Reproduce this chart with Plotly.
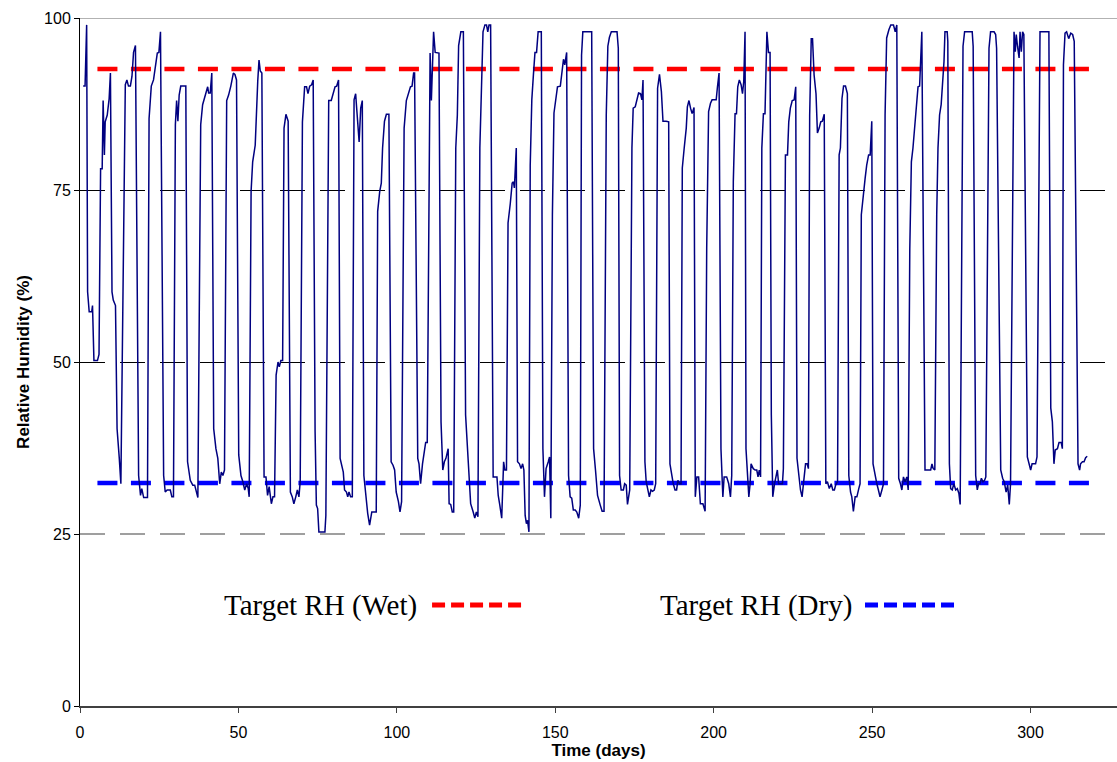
import plotly.graph_objects as go

# Measured relative humidity in the chamber (day, %RH)
days = [
    1.0, 1.6, 2.1, 2.4, 2.9, 3.7, 3.95, 4.4, 5.5, 6.0, 6.5, 7.0, 7.3, 7.7, 7.95, 8.6, 9.2, 9.6,
    10.1, 10.5, 11.2, 11.7, 12.4, 12.9,
    14.3, 14.8, 15.3, 15.9, 16.4, 16.9, 17.5,
    18.5, 19.1, 19.5, 20.1, 20.6, 21.3,
    21.8, 22.5, 23.2, 23.9, 24.4, 24.9, 25.4,
    26.4, 26.9, 27.5, 28.5, 29.0, 29.5,
    30.1, 30.5, 30.9, 31.3, 31.8, 33.4,
    33.95, 34.8, 35.6, 36.2, 37.2,
    38.1, 38.7, 39.5, 40.3, 40.6, 41.1, 41.6,
    42.2, 42.9, 43.5, 44.1, 44.6, 45.1, 45.6,
    46.3, 46.9, 47.6, 48.4, 48.9, 49.4,
    50.1, 50.8, 51.4, 52.0, 52.6, 53.1, 53.4,
    54.0, 54.5, 55.3, 56.1, 56.5, 56.9, 57.4,
    58.1, 58.7, 59.2, 59.7, 60.4, 60.9, 61.4,
    61.9, 62.5, 62.9, 63.4, 63.95, 64.4, 65.0, 65.7,
    66.4, 67.0, 67.5, 68.1, 68.6, 69.1, 69.5,
    70.2, 70.9, 71.5, 71.95, 72.5, 73.1, 73.6,
    74.2, 74.6, 75.0, 75.4, 77.3, 77.6,
    78.2, 78.5, 79.3, 79.9, 80.5, 81.0, 81.6,
    82.1, 82.6, 83.1, 83.5, 84.1, 84.5, 84.9, 85.4, 85.95,
    86.5, 87.0, 87.4, 88.1, 88.6, 89.1,
    89.6, 90.2, 90.8, 91.4, 92.1, 93.5,
    93.95, 94.6, 95.1, 95.5, 96.1, 96.7, 97.5,
    98.2, 98.8, 99.3, 99.8, 100.5, 101.0, 101.5,
    102.3, 103.0, 103.6, 104.3, 104.8, 105.3, 105.6,
    106.6, 107.0, 107.5, 108.1, 108.7, 109.1, 109.6,
    110.5, 110.9, 111.6, 112.1, 112.8, 113.3,
    113.95, 114.5, 115.0, 115.5, 116.2, 116.5, 117.0, 117.5, 117.95,
    118.6, 119.1, 119.5, 120.2, 121.0,
    121.7, 122.6, 123.3, 124.1, 124.6, 125.1, 125.6,
    126.2, 126.8, 127.2, 127.8, 128.3, 128.7, 129.1, 129.6,
    130.4, 131.6, 132.0, 132.5, 133.1, 133.7, 134.1, 134.6,
    135.1, 135.8, 136.4, 136.8, 137.1, 137.7,
    138.1, 138.7, 139.2, 139.7, 140.1, 140.5, 140.9, 141.25, 141.7,
    142.1, 142.6, 143.1, 143.6, 144.1, 144.6, 145.6,
    146.1, 146.6, 147.1, 147.8, 148.2, 148.6,
    149.1, 149.6, 150.1, 150.7, 151.6, 152.2, 152.6, 153.0, 153.6,
    154.2, 154.7, 155.2, 155.7, 156.3, 156.8, 157.4, 157.9,
    158.3, 158.7, 161.5,
    162.1, 162.7, 163.35, 164.2, 164.8, 165.4,
    166.1, 166.6, 167.1, 167.7, 169.5, 169.9,
    170.3, 170.8, 171.5, 171.9, 172.4, 172.8, 173.5,
    174.2, 174.6, 175.25, 175.7, 176.3, 176.9, 177.35, 177.7,
    178.3, 178.7, 179.25, 179.7, 180.2, 180.7, 181.25, 181.7,
    182.3, 182.9, 183.5, 184.0, 185.0, 185.8,
    186.2, 186.7, 187.25, 187.8, 188.3, 188.7, 189.25, 189.7,
    190.1, 190.7, 191.35, 191.7, 192.2, 192.7, 193.2, 193.8,
    194.2, 194.7, 195.25, 195.8, 196.6, 197.3,
    197.8, 198.4, 199.0, 199.5, 200.8, 201.2, 201.7,
    202.3, 202.9, 203.3, 204.1, 204.75, 205.3, 205.7,
    206.2, 206.75, 207.2, 207.6, 208.1, 208.65, 209.1, 209.5, 209.9,
    210.2, 210.65, 211.1, 211.5, 211.8, 212.5, 213.1, 213.6, 214.0, 214.4, 214.8,
    215.2, 215.7, 216.2, 216.8, 217.3, 217.8,
    218.2, 218.65, 219.2, 219.7, 220.1, 220.5, 221.7, 222.0,
    222.65, 223.3, 223.7, 224.2, 224.8, 225.4, 225.9,
    226.3, 226.9, 227.4, 227.9, 228.5, 229.0, 229.5, 229.9,
    230.3, 230.8, 231.2, 231.7, 232.3, 232.75, 233.3, 233.8, 234.3, 234.9,
    235.4, 235.9, 236.5, 237.1, 237.6, 238.1, 238.5, 239.1,
    239.6, 240.0, 240.5, 241.0, 241.6, 242.2,
    242.65, 243.2, 243.6, 244.1, 244.65, 245.2, 245.8, 246.2,
    246.6, 247.3, 247.8, 248.3, 248.9, 249.4, 249.9,
    250.3, 250.9, 251.5, 252.0, 252.5, 253.1, 253.6,
    254.1, 254.6, 255.3, 255.9, 256.75, 257.3, 257.8,
    258.4, 258.95, 259.4, 259.9, 260.4, 260.96, 261.4,
    261.9, 262.4, 262.9, 263.4, 263.9, 264.5, 265.0, 265.3, 265.7,
    266.7, 268.5, 268.9, 269.3, 269.8,
    270.4, 270.8, 271.3, 271.8, 272.4, 272.7, 273.0, 273.7, 273.9,
    274.4, 274.8, 275.3, 275.8, 276.4, 276.9, 277.4, 277.8,
    278.7, 279.2, 281.6, 281.9,
    282.7, 283.2, 283.6, 284.05, 284.5, 285.0, 285.5, 285.9,
    286.9, 287.4, 288.5, 289.0, 289.3,
    290.6, 291.2, 291.7, 292.3, 292.8, 293.3, 293.7,
    294.8, 295.2, 295.5, 295.9, 296.4, 296.7, 297.1, 297.5, 297.9,
    299.0, 299.5, 300.05, 300.5, 301.6, 302.05,
    303.0, 305.8,
    306.4, 306.9, 307.4, 307.8, 308.5, 309.0, 309.7, 310.05,
    310.4, 310.9, 311.4, 312.05, 312.7, 313.3, 313.8,
    315.0, 315.5, 315.8, 316.4, 316.9, 317.4, 317.9,
]

rh = [
    90.1, 90.1, 99.0, 60.2, 57.3, 57.3, 58.2, 50.2, 50.2, 51.1, 78.1, 78.1, 88.0, 80.1, 84.9, 85.9, 88.3, 92.0,
    60.2, 59.0, 58.2, 40.3, 36.0, 32.3,
    90.3, 91.0, 90.1, 90.1, 91.5, 95.0, 96.0,
    33.5, 30.6, 31.6, 30.3, 30.3, 30.3,
    85.4, 90.1, 91.0, 93.7, 94.9, 95.0, 98.0,
    33.5, 31.1, 31.4, 31.4, 30.4, 30.4,
    84.5, 88.0, 85.0, 88.8, 90.1, 90.1,
    35.5, 32.8, 32.1, 32.1, 30.3,
    84.5, 87.4, 88.8, 90.0, 89.1, 89.1, 92.0,
    40.3, 37.4, 36.0, 32.3, 34.0, 33.5, 34.3,
    88.0, 88.8, 90.1, 92.0, 91.8, 91.0,
    36.5, 33.5, 32.6, 31.4, 32.3, 31.6, 30.4,
    74.8, 79.1, 81.5, 90.8, 93.9, 92.3, 92.0,
    33.3, 33.3, 30.6, 31.9, 29.4, 30.4, 30.4,
    48.1, 50.0, 49.3, 50.2, 50.2, 84.0, 86.0, 85.0,
    31.1, 30.4, 29.4, 30.4, 31.4, 30.4, 32.6,
    84.9, 90.0, 90.0, 89.0, 90.1, 90.3, 91.0,
    39.9, 29.2, 28.7, 25.3, 25.3, 27.7,
    79.1, 88.0, 88.0, 89.0, 90.0, 90.1, 91.0,
    36.0, 35.0, 34.0, 31.4, 31.1, 30.4, 31.1, 30.4, 30.4,
    88.1, 89.0, 86.4, 82.0, 86.9, 88.0,
    33.5, 30.2, 28.0, 26.3, 28.2, 28.2,
    71.9, 74.8, 76.0, 81.1, 85.0, 86.0, 86.0,
    35.5, 35.0, 34.3, 31.1, 29.7, 28.2, 29.7,
    84.0, 88.0, 89.0, 90.0, 90.1, 92.0, 92.0,
    36.0, 35.2, 32.3, 35.2, 37.4, 38.3, 38.3,
    94.9, 88.0, 98.0, 95.0, 95.0, 94.9,
    41.3, 34.3, 35.5, 36.0, 37.4, 29.4, 29.3, 28.2, 28.2,
    81.1, 85.9, 96.0, 98.0, 98.0,
    42.3, 35.5, 29.4, 28.2, 27.3, 28.2, 27.5,
    81.1, 93.2, 98.0, 99.0, 99.0, 98.0, 99.0, 99.0,
    33.3, 33.3, 30.6, 29.2, 27.3, 35.5, 34.3, 34.3,
    70.2, 73.0, 76.0, 76.2, 75.3, 81.1,
    35.5, 35.2, 34.5, 35.2, 34.3, 27.7, 26.5, 27.0, 25.3,
    78.6, 88.1, 91.7, 95.0, 95.0, 98.0, 98.0,
    37.4, 30.4, 34.5, 35.5, 36.2, 27.3,
    71.4, 86.2, 88.1, 90.0, 90.1, 92.0, 94.0, 93.2, 95.0,
    33.5, 30.4, 30.2, 28.5, 28.5, 28.2, 27.3, 29.2,
    94.6, 98.0, 98.0,
    37.4, 34.3, 30.6, 29.2, 28.3, 28.3,
    85.9, 95.9, 97.2, 98.0, 98.0, 95.6,
    33.5, 31.4, 31.4, 32.3, 32.1, 29.3, 31.4,
    81.1, 86.9, 87.1, 88.1, 89.1, 89.0, 88.1, 91.0,
    35.5, 32.6, 31.6, 30.4, 31.4, 31.2, 31.4, 32.3,
    89.8, 91.8, 89.3, 85.0, 85.0, 84.9,
    35.2, 33.8, 32.3, 31.4, 31.4, 32.8, 32.3, 32.3,
    78.2, 81.1, 84.0, 87.1, 88.0, 86.9, 86.1, 87.0,
    30.4, 33.3, 33.3, 29.4, 29.4, 28.3,
    66.5, 86.4, 87.6, 88.1, 88.1, 90.0, 92.0,
    37.4, 30.4, 33.3, 33.3, 32.3, 30.4, 33.5,
    76.2, 86.1, 86.1, 90.0, 91.0, 90.3, 89.0, 90.8, 98.0,
    37.4, 33.5, 30.4, 32.3, 35.2, 34.5, 34.3, 34.3, 33.3, 34.3, 33.3,
    81.1, 86.1, 86.1, 98.0, 95.0, 95.0,
    42.3, 30.4, 32.3, 33.3, 34.3, 32.3, 32.3, 34.5,
    80.1, 80.1, 84.9, 86.9, 88.0, 88.1, 90.0,
    36.0, 33.3, 31.4, 30.4, 33.3, 35.2, 35.2, 34.5,
    85.9, 97.0, 97.0, 91.7, 89.0, 83.3, 84.0, 84.9, 85.0, 86.0,
    32.3, 32.6, 31.6, 32.3, 31.4, 31.4, 32.1, 32.6,
    80.1, 81.1, 88.3, 90.1, 90.1, 89.0,
    33.5, 31.1, 30.4, 28.3, 30.4, 30.4, 31.6, 32.3,
    71.4, 75.0, 76.7, 78.6, 80.1, 80.1, 85.0,
    35.2, 33.5, 32.3, 31.4, 30.4, 31.4, 32.3,
    85.9, 97.1, 98.3, 99.0, 99.0, 98.0, 99.0,
    33.1, 32.3, 31.4, 33.3, 32.6, 33.3, 31.4,
    66.5, 79.1, 81.1, 84.0, 85.9, 90.0, 90.1, 94.6, 98.0,
    34.3, 34.3, 35.2, 34.5, 34.3,
    71.4, 81.1, 85.9, 87.4, 90.8, 93.7, 98.0, 98.0, 96.6,
    35.2, 31.6, 31.4, 32.3, 31.4, 31.6, 30.9, 29.3,
    95.9, 98.0, 98.0, 95.9,
    33.5, 31.4, 32.3, 32.3, 33.1, 32.6, 32.8, 33.3,
    95.6, 98.0, 98.0, 97.6, 95.6,
    34.3, 33.1, 32.6, 31.1, 32.1, 29.3, 32.3,
    98.0, 95.1, 97.6, 95.9, 94.2, 98.0, 95.1, 98.0, 97.6,
    36.2, 35.2, 34.3, 35.2, 35.2, 36.2,
    98.0, 98.0,
    43.3, 41.3, 35.2, 37.2, 37.4, 38.3, 38.3, 37.4,
    93.2, 97.8, 98.0, 97.0, 97.8, 97.6, 96.6,
    35.2, 34.3, 35.2, 35.5, 35.5, 36.1, 36.3,
]

# Target set points and the span over which they apply
target_wet = 92.6
target_dry = 32.4
wet_span = [5.5, 319.5]
dry_span = [5.5, 322.0]

x_ticks = [0, 50, 100, 150, 200, 250, 300]
y_ticks = [0, 25, 50, 75, 100]
dashed_levels = [50, 75]
lower_level = 25

SANS = "Arial, 'Liberation Sans', sans-serif"
SERIF = "'Times New Roman', 'Liberation Serif', serif"
TARGET_DASH = "20px,13.5px"

fig = go.Figure()

fig.add_trace(go.Scatter(
    x=wet_span, y=[target_wet, target_wet], mode="lines",
    line=dict(color="#ff0000", width=4.5, dash=TARGET_DASH),
    showlegend=False, hoverinfo="skip",
))
fig.add_trace(go.Scatter(
    x=dry_span, y=[target_dry, target_dry], mode="lines",
    line=dict(color="#0000ff", width=4.5, dash=TARGET_DASH),
    showlegend=False, hoverinfo="skip",
))
fig.add_trace(go.Scatter(
    x=days, y=rh, mode="lines",
    line=dict(color="#000080", width=1.5),
    showlegend=False,
))

shapes = []
# lower dashed reference level (grey)
shapes.append(dict(type="line", xref="paper", yref="y", x0=0, x1=1, y0=lower_level, y1=lower_level,
                   line=dict(color="#808080", width=1.5, dash="25px,15px"), layer="below"))
# top frame line
shapes.append(dict(type="line", xref="paper", yref="y", x0=0, x1=1, y0=100, y1=100,
                   line=dict(color="#999999", width=1.5), layer="below"))
# key samples
shapes.append(dict(type="line", xref="paper", yref="paper", x0=0.3395, x1=0.4278, y0=0.1468, y1=0.1468,
                   line=dict(color="#ff0000", width=5, dash="13px,6px")))
shapes.append(dict(type="line", xref="paper", yref="paper", x0=0.757, x1=0.8467, y0=0.1468, y1=0.1468,
                   line=dict(color="#0000ff", width=5, dash="13px,6px")))

annotations = [
    dict(text="Target RH (Wet)", xref="paper", yref="paper", x=0.137, y=0.146,
         xanchor="left", yanchor="middle", showarrow=False,
         font=dict(family=SERIF, size=29, color="#000000")),
    dict(text="Target RH (Dry)", xref="paper", yref="paper", x=0.5576, y=0.146,
         xanchor="left", yanchor="middle", showarrow=False,
         font=dict(family=SERIF, size=29, color="#000000")),
]

fig.update_layout(
    width=1117, height=762, autosize=False,
    margin=dict(l=80, r=0, t=18, b=56),
    paper_bgcolor="#ffffff", plot_bgcolor="#ffffff",
    font=dict(family=SANS, size=16, color="#000000"),
    shapes=shapes, annotations=annotations,
    xaxis=dict(
        range=[0, 327.3], tickvals=x_ticks, ticks="outside", ticklen=5,
        tickcolor="#404040", showline=True, linecolor="#404040", linewidth=1.5,
        showgrid=False, zeroline=False, tickfont=dict(size=16),
        ticklabelstandoff=6,
        title=dict(text="Time (days)", font=dict(size=17, weight="bold"), standoff=2),
    ),
    yaxis=dict(
        range=[0, 100], tickvals=y_ticks, ticks="outside", ticklen=5,
        tickcolor="#000000", showline=True, linecolor="#000000", linewidth=1,
        showgrid=False, zeroline=False, tickfont=dict(size=16),
        minor=dict(tickmode="array", tickvals=dashed_levels, ticks="", showgrid=True,
                   gridcolor="#000000", gridwidth=1, griddash="25px,15px"),
        title=dict(text="Relative Humidity (%)", font=dict(size=17, weight="bold"), standoff=10),
    ),
)

fig.write_html("out.html")
